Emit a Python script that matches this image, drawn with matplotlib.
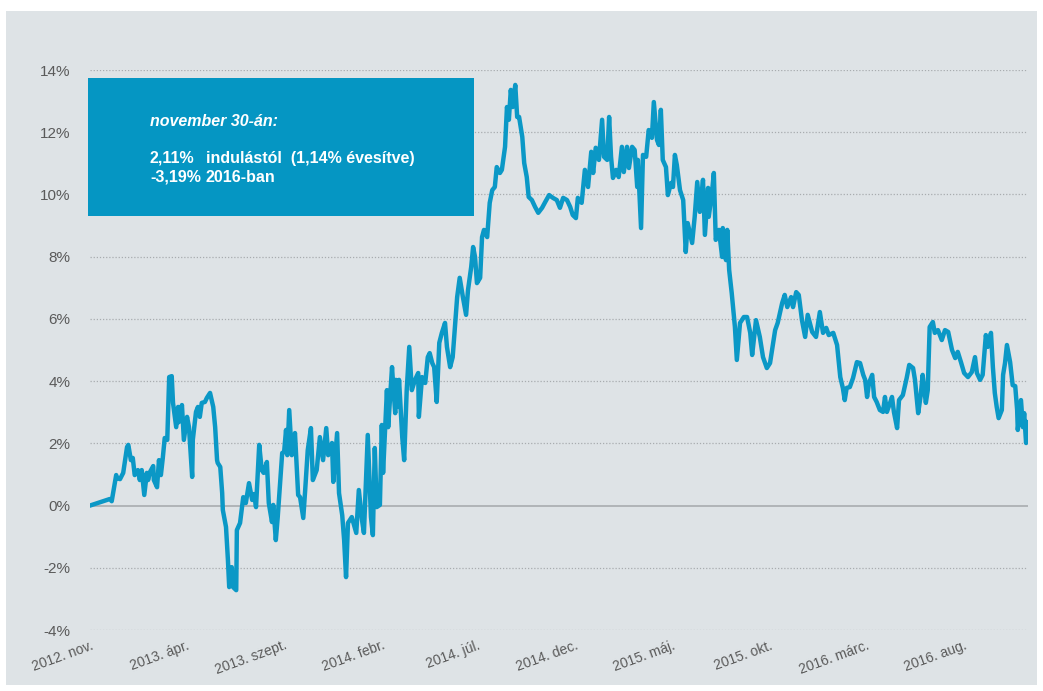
import numpy as np
import pandas as pd
import matplotlib.pyplot as plt
from matplotlib.patches import Rectangle

plt.rcParams['font.family'] = ['Liberation Sans', 'DejaVu Sans']

# Hozam az indulás óta (%), napok 2012. nov. 1-től
kezdet = pd.Timestamp('2012-11-01')
nap = [0, 31, 34, 41, 42, 47, 52, 58, 60, 64, 67, 70, 75, 78, 81, 85, 89, 91, 94, 99,
       100, 105, 108, 111, 114, 117, 121, 124, 128, 130, 135, 138, 139, 144, 147, 152, 155, 160, 161, 166,
       169, 172, 175, 180, 183, 188, 193, 196, 199, 200, 204, 207, 208, 213, 216, 218, 222, 224, 229, 230,
       235, 240, 244, 249, 254, 257, 260, 265, 269, 272, 277, 280, 285, 287, 291, 294, 301, 304, 307, 309,
       312, 316, 321, 326, 329, 334, 337, 341, 346, 349, 355, 360, 365, 370, 373, 379, 381, 387, 390, 395,
       398, 401, 404, 410, 417, 421, 426, 429, 435, 440, 443, 446, 449, 454, 457, 459, 465, 467, 473, 474,
       478, 479, 482, 484, 489, 492, 496, 500, 504, 509, 514, 515, 520, 525, 529, 532, 536, 539, 543, 547,
       551, 556, 559, 564, 568, 575, 579, 584, 589, 592, 597, 600, 603, 606, 611, 614, 617, 622, 626, 630,
       634, 637, 642, 645, 650, 653, 656, 659, 662, 666, 669, 672, 677, 680, 684, 687, 692, 697, 702, 708,
       713, 719, 725, 731, 736, 741, 747, 752, 756, 761, 764, 770, 775, 780, 785, 788, 792, 797, 802, 805,
       810, 813, 816, 819, 824, 828, 833, 836, 841, 844, 849, 853, 857, 858, 863, 866, 871, 875, 880, 883,
       888, 891, 894, 897, 902, 905, 910, 913, 916, 919, 924, 929, 933, 936, 943, 947, 951, 955, 960, 963,
       968, 969, 974, 977, 980, 985, 990, 991, 996, 998, 1001, 1005, 1010, 1013, 1018, 1024, 1029, 1034, 1037, 1043,
       1049, 1054, 1060, 1065, 1073, 1077, 1084, 1088, 1092, 1098, 1101, 1106, 1110, 1115, 1120, 1124, 1131, 1137, 1143, 1148,
       1153, 1157, 1164, 1170, 1175, 1179, 1182, 1185, 1190, 1195, 1201, 1206, 1211, 1214, 1217, 1220, 1225, 1228, 1232, 1237,
       1242, 1245, 1248, 1253, 1256, 1259, 1264, 1267, 1273, 1279, 1283, 1289, 1292, 1297, 1301, 1304, 1309, 1312, 1315, 1320,
       1323, 1328, 1334, 1339, 1344, 1350, 1355, 1359, 1364, 1369, 1375, 1381, 1386, 1389, 1394, 1398, 1403, 1406, 1411, 1414,
       1417, 1420, 1423, 1428, 1430, 1433, 1436, 1441, 1445, 1449, 1452, 1453, 1458, 1461, 1463, 1466, 1469]
hozam = [0.00, 0.21, 0.14, 0.98, 0.88, 0.85, 1.05, 1.88, 1.95, 1.46, 1.53, 0.98, 1.14, 0.82, 1.14, 0.34, 1.05, 0.82, 1.08, 1.27,
         0.82, 0.59, 1.46, 0.98, 1.53, 2.17, 2.11, 4.13, 4.16, 3.30, 2.52, 3.17, 2.68, 3.23, 2.11, 2.85, 2.52, 0.92, 2.11, 3.01,
         3.17, 2.85, 3.30, 3.33, 3.46, 3.62, 3.17, 2.52, 1.46, 1.37, 1.24, 0.40, -0.14, -0.69, -1.75, -2.62, -1.98, -2.62, -2.72, -0.79,
         -0.56, 0.27, 0.08, 0.72, 0.18, 0.37, -0.05, 1.95, 1.14, 1.05, 1.40, 0.08, -0.53, 0.02, -1.11, -0.37, 1.69, 1.72, 2.43, 1.62,
         3.07, 1.62, 2.33, 0.34, 0.27, -0.40, 0.50, 1.78, 2.49, 0.82, 1.14, 2.20, 1.46, 2.49, 1.62, 2.01, 0.76, 2.33, 0.40, -0.31,
         -1.11, -2.30, -0.56, -0.37, -0.88, 0.50, -0.47, -0.88, 2.27, -0.37, -0.95, 1.85, -0.05, 0.02, 2.59, 1.05, 3.71, 2.52, 4.45, 4.13,
         2.97, 4.04, 3.17, 4.04, 2.20, 1.46, 3.71, 5.10, 3.71, 4.04, 4.26, 2.85, 4.13, 3.94, 4.77, 4.90, 4.58, 4.45, 3.33, 5.23,
         5.55, 5.87, 5.10, 4.45, 4.77, 6.70, 7.32, 6.70, 6.13, 6.93, 7.67, 8.31, 7.99, 7.15, 7.32, 8.63, 8.86, 8.63, 9.73, 10.14,
         10.24, 10.88, 10.69, 10.79, 11.53, 12.81, 12.40, 13.36, 12.81, 13.52, 12.49, 12.49, 11.85, 11.01, 10.56, 9.92, 9.82, 9.60, 9.41, 9.57,
         9.76, 9.98, 9.89, 9.82, 9.57, 9.89, 9.82, 9.60, 9.34, 9.24, 9.89, 9.73, 10.79, 10.24, 11.37, 10.69, 11.50, 11.11, 12.40, 11.21,
         11.11, 12.49, 11.21, 10.53, 10.79, 10.56, 11.53, 10.72, 11.53, 10.85, 11.53, 11.43, 10.24, 11.11, 8.92, 11.27, 11.21, 12.07, 11.82, 12.97,
         11.75, 11.59, 12.72, 11.11, 10.88, 9.98, 10.37, 10.24, 11.27, 10.95, 10.14, 9.82, 8.15, 9.08, 8.44, 9.28, 10.40, 9.44, 10.47, 8.70,
         10.21, 9.28, 10.05, 10.69, 8.54, 8.86, 7.99, 8.92, 7.89, 8.86, 7.57, 6.83, 5.74, 4.68, 5.87, 6.06, 6.06, 5.55, 4.84, 5.96,
         5.42, 4.77, 4.42, 4.58, 5.64, 5.87, 6.51, 6.77, 6.38, 6.70, 6.38, 6.86, 6.77, 5.96, 5.42, 6.13, 5.58, 5.42, 6.22, 5.55,
         5.71, 5.48, 5.55, 5.16, 4.13, 3.78, 3.39, 3.78, 3.81, 4.10, 4.61, 4.58, 4.20, 4.04, 3.49, 3.94, 4.20, 3.49, 3.33, 3.07,
         3.01, 3.49, 3.01, 3.30, 3.49, 3.01, 2.49, 3.39, 3.55, 4.10, 4.52, 4.42, 4.04, 2.97, 3.55, 4.20, 3.30, 3.71, 5.74, 5.90,
         5.55, 5.64, 5.32, 5.64, 5.58, 5.00, 4.74, 4.94, 4.61, 4.26, 4.13, 4.29, 4.77, 4.26, 4.04, 4.20, 5.48, 5.10, 5.55, 4.45,
         3.62, 3.17, 2.81, 3.07, 4.20, 4.58, 5.16, 4.61, 3.87, 3.84, 3.07, 2.43, 3.39, 2.52, 2.97, 2.01, 2.68]

tick_datumok = pd.date_range('2012-11-01', periods=10, freq='5MS')
tick_cimkek = ['2012. nov.', '2013. ápr.', '2013. szept.', '2014. febr.', '2014. júl.',
               '2014. dec.', '2015. máj.', '2015. okt.', '2016. márc.', '2016. aug.']
y_tickek = np.arange(-4, 15, 2)

datum = kezdet + pd.to_timedelta(nap, unit='D')

W, H = 1043, 691
fig = plt.figure(figsize=(W / 100, H / 100), dpi=100, facecolor='white')

# szürke háttér
fig.add_artist(Rectangle((6 / W, 6 / H), 1031 / W, 674 / H, transform=fig.transFigure,
                         facecolor='#dee3e6', edgecolor='none', zorder=0))

ax = fig.add_axes([90 / W, (H - 630) / H, 938 / W, 560 / H])
ax.set_facecolor('none')
ax.plot(datum, hozam, color='#0b98c6', linewidth=3.2, solid_joinstyle='round', zorder=3)

ax.set_ylim(-4, 14)
ax.set_xlim(kezdet, datum[-1])
ax.set_yticks(y_tickek)
ax.set_yticklabels([f'{v}%' for v in y_tickek])
for v in y_tickek:
    if v == 0:
        ax.axhline(v, color='#a8acaf', linewidth=1.2, zorder=1)
    else:
        ax.axhline(v, color='#a8acaf', linewidth=0.9, linestyle=(0, (1, 1.5)), zorder=1)

ax.set_xticks(tick_datumok)
ax.set_xticklabels(tick_cimkek, rotation=20, ha='right', rotation_mode='anchor')
ax.tick_params(axis='y', length=0, pad=14, labelsize=11, labelcolor='#5a5a5a')
ax.tick_params(axis='x', length=0, pad=6, labelsize=10, labelcolor='#5a5a5a')
for s in ax.spines.values():
    s.set_visible(False)

# kék szövegdoboz
fs = 11.5
fig.add_artist(Rectangle((88 / W, (H - 216) / H), 386 / W, 138 / H, transform=fig.transFigure,
                         facecolor='#0596c3', edgecolor='none', zorder=5))
fig.text(150 / W, (H - 122) / H, 'november 30-án:', color='white', fontsize=fs,
         fontweight='bold', fontstyle='italic', va='center', zorder=6)
fig.text(150 / W, (H - 158) / H, '2,11%', color='white', fontsize=fs, fontweight='bold', va='center', zorder=6)
fig.text(206 / W, (H - 158) / H, 'indulástól  (1,14% évesítve)', color='white', fontsize=fs,
         fontweight='bold', va='center', zorder=6)
fig.text(150 / W, (H - 177) / H, '-3,19%', color='white', fontsize=fs, fontweight='bold', va='center', zorder=6)
fig.text(206 / W, (H - 177) / H, '2016-ban', color='white', fontsize=fs, fontweight='bold', va='center', zorder=6)

plt.savefig('out.png', dpi=100, facecolor='white')
